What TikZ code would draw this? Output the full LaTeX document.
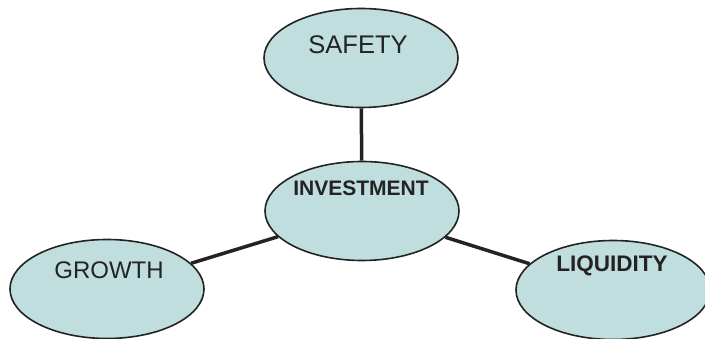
\documentclass[tikz,border=0pt]{standalone}
\usepackage{fontspec}
\setmainfont{Liberation Sans}
\usetikzlibrary{shapes.geometric}
\definecolor{bubble}{RGB}{192,222,222}
\definecolor{ink}{RGB}{35,35,35}
\begin{document}
\begin{tikzpicture}[x=1pt,y=-1pt]
\tikzset{goal/.style={ellipse, draw=ink, line width=1.6pt, fill=bubble, minimum width=194pt, minimum height=99pt, inner sep=0pt},
  link/.style={line width=3.5pt, draw=ink},
  plain/.style={text=ink, font=\fontsize{24}{28}\selectfont},
  heavy/.style={text=ink, font=\bfseries\fontsize{21}{25}\selectfont}}
\useasboundingbox (0,0) rectangle (705,339);

% the four goals
\node[goal] (safety) at (361,58) {};
\node[goal] (invest) at (362,211) {};
\node[goal] (growth) at (107,289) {};
\node[goal] (liquid) at (613,290) {};

% links to the middle
\draw[link] (safety) -- (invest);
\draw[link] (growth) -- (invest);
\draw[link] (invest) -- (liquid);

% texts
\node[plain, font=\fontsize{25.5}{30}\selectfont] (safetytxt) at (358,45) {SAFETY};
\node[heavy] (investtxt) at (361,188) {INVESTMENT};
\node[plain] (growthtxt) at (109,270) {GROWTH};
\node[heavy, font=\bfseries\fontsize{22.5}{26}\selectfont] (liquidtxt) at (612,266) {LIQUIDITY};
\end{tikzpicture}
\end{document}
